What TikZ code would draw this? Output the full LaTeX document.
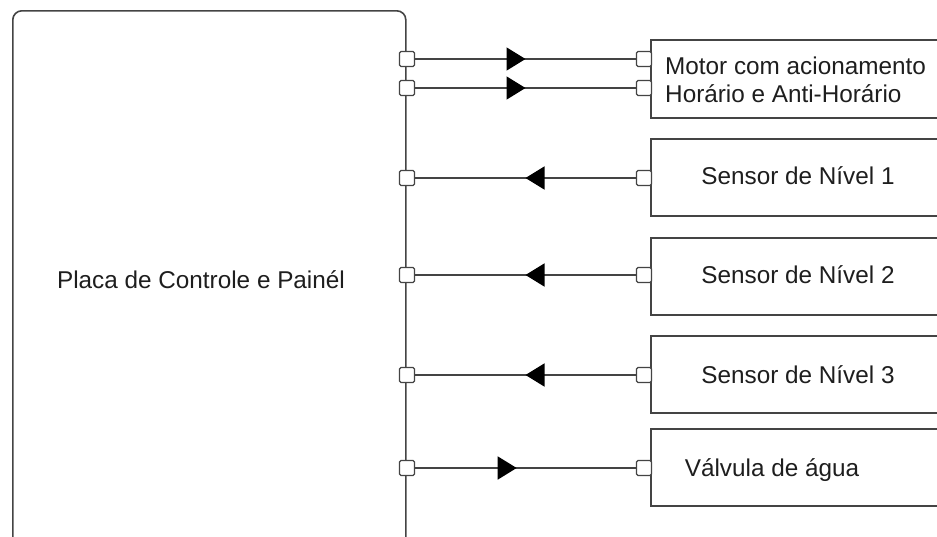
\documentclass[tikz,border=0pt]{standalone}
\usepackage{fontspec}
\setmainfont{Liberation Sans}
\usetikzlibrary{arrows.meta,decorations.markings}
\definecolor{linec}{RGB}{68,68,68}
\definecolor{textc}{RGB}{30,30,30}
\tikzset{
  x=1pt, y=-1pt,
  blockbox/.style={draw=linec, line width=1.6pt, fill=white, anchor=north west, inner sep=0pt},
  port/.style={draw=linec, line width=1.3pt, fill=white, rounded corners=1.5pt, minimum size=15pt, inner sep=0pt},
  lbl/.style={text=textc, font=\fontsize{24.3}{28}\selectfont, inner sep=0pt},
  wire/.style={draw=linec, line width=1.6pt},
  midarrow/.style={postaction={decorate}, decoration={markings, mark=at position #1 with {\arrow[black]{Triangle[length=19pt,width=23pt]}}}}
}
\begin{document}
\begin{tikzpicture}
\useasboundingbox (0,0) rectangle (937,536);
\clip (0,0) rectangle (937,536);
\fill[white] (0,0) rectangle (937,536);
% main box
\node[blockbox, rounded corners=9pt, minimum width=393pt, minimum height=540pt] (main) at (12,10) {};
\node[lbl, anchor=base] (maintext) at (201,288) {Placa de Controle e Painél};
% right boxes
\node[blockbox, minimum width=300pt, minimum height=78pt] (motor) at (650,39) {};
\node[blockbox, minimum width=300pt, minimum height=77pt] (s1) at (650,138) {};
\node[blockbox, minimum width=300pt, minimum height=77pt] (s2) at (650,237) {};
\node[blockbox, minimum width=300pt, minimum height=77pt] (s3) at (650,335) {};
\node[blockbox, minimum width=300pt, minimum height=77pt] (valv) at (650,428) {};
% labels
\node[lbl, anchor=west, align=left] (motortext) at (665,80) {Motor com acionamento\\Horário e Anti-Horário};
\node[lbl, anchor=base] (s1text) at (798,184) {Sensor de Nível 1};
\node[lbl, anchor=base] (s2text) at (798,283) {Sensor de Nível 2};
\node[lbl, anchor=base] (s3text) at (798,383) {Sensor de Nível 3};
\node[lbl, anchor=base] (valvtext) at (772,476) {Válvula de água};
% ports
\foreach \n/\yy in {m1/59, m2/88, a1/178, a2/275, a3/375, v/468} {
  \node[port] (L\n) at (407,\yy) {};
  \node[port] (R\n) at (644,\yy) {};
}
% wires
\draw[wire, midarrow=0.5] (Lm1) -- (Rm1);
\draw[wire, midarrow=0.5] (Lm2) -- (Rm2);
\draw[wire, midarrow=0.5] (Ra1) -- (La1);
\draw[wire, midarrow=0.5] (Ra2) -- (La2);
\draw[wire, midarrow=0.5] (Ra3) -- (La3);
\draw[wire, midarrow=0.46] (Lv) -- (Rv);
\end{tikzpicture}
\end{document}
